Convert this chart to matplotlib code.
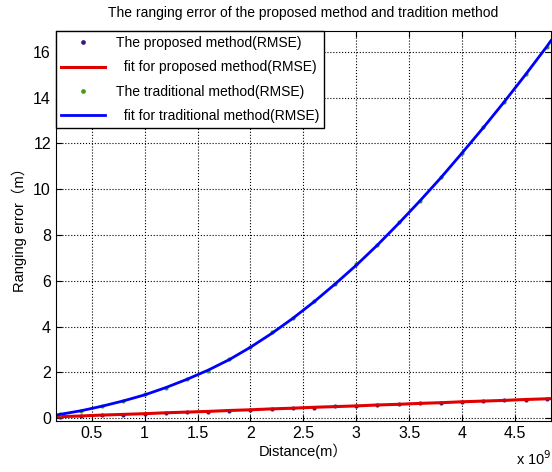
import matplotlib
matplotlib.use('Agg')
import matplotlib.pyplot as plt

plt.rcParams['font.family'] = ['Liberation Sans', 'Noto Sans CJK SC', 'DejaVu Sans']

# distance in units of 1e9 m
dist = [0.2, 0.4, 0.6, 0.8, 1.0, 1.2, 1.4, 1.6, 1.8, 2.0, 2.2, 2.4,
        2.6, 2.8, 3.0, 3.2, 3.4, 3.6, 3.8, 4.0, 4.2, 4.4, 4.6, 4.8]

# measured RMSE points
proposed = [0.07, 0.09, 0.13, 0.15, 0.19, 0.22, 0.27, 0.29, 0.33, 0.37, 0.40, 0.45,
            0.47, 0.52, 0.54, 0.59, 0.61, 0.66, 0.68, 0.72, 0.75, 0.79, 0.81, 0.85]
traditional = [0.18, 0.32, 0.55, 0.75, 1.04, 1.32, 1.73, 2.08, 2.59, 3.10, 3.75, 4.36,
               5.13, 5.86, 6.73, 7.56, 8.55, 9.48, 10.55, 11.58, 12.73, 13.82, 15.05, 16.22]

# fitted curves
fit_dist = [0.16, 0.2, 0.4, 0.6, 0.8, 1.0, 1.2, 1.4, 1.6, 1.8, 2.0, 2.2, 2.4,
            2.6, 2.8, 3.0, 3.2, 3.4, 3.6, 3.8, 4.0, 4.2, 4.4, 4.6, 4.8, 4.84]
fit_proposed = [0.06, 0.07, 0.10, 0.14, 0.17, 0.20, 0.24, 0.27, 0.30, 0.34, 0.37, 0.41, 0.44,
                0.48, 0.51, 0.54, 0.58, 0.61, 0.65, 0.68, 0.72, 0.75, 0.78, 0.82, 0.85, 0.86]
fit_traditional = [0.14, 0.17, 0.33, 0.53, 0.76, 1.02, 1.34, 1.70, 2.10, 2.56, 3.10, 3.70, 4.36,
                   5.08, 5.86, 6.68, 7.56, 8.50, 9.48, 10.50, 11.58, 12.68, 13.82, 15.00, 16.22, 16.48]

fig = plt.figure(figsize=(5.52, 4.72), dpi=100)
ax = fig.add_axes([0.101, 0.108, 0.897, 0.826])

ax.plot(dist, proposed, '.', color='#3a1a80', markersize=4, label='The proposed method(RMSE)')
ax.plot(fit_dist, fit_proposed, '-', color='#e00000', linewidth=2.2, label='  fit for proposed method(RMSE)')
ax.plot(dist, traditional, '.', color='#4a9a20', markersize=4, label='The traditional method(RMSE)')
ax.plot(fit_dist, fit_traditional, '-', color='#0000ff', linewidth=2.0, label='  fit for traditional method(RMSE)')

ax.set_xlim(0.16, 4.84)
ax.set_ylim(-0.12, 16.9)
ax.set_xticks([0.5, 1, 1.5, 2, 2.5, 3, 3.5, 4, 4.5])
ax.set_xticklabels(['0.5', '1', '1.5', '2', '2.5', '3', '3.5', '4', '4.5'])
ax.set_yticks(range(0, 17, 2))
ax.tick_params(direction='in', top=True, right=True, length=4, labelsize=11.5)
ax.grid(True, linestyle=':', color='black', linewidth=0.8)
for s in ax.spines.values():
    s.set_linewidth(0.8)

ax.set_title('The ranging error of the proposed method and tradition method', fontsize=10, pad=10)
ax.set_xlabel('Distance(m\uff09', fontsize=10.5, labelpad=2)
ax.set_ylabel('Ranging error\uff08m\uff09', fontsize=10.5)
fig.text(0.935, 0.015, r'x 10$^9$', fontsize=10.5)

leg = ax.legend(loc='upper left', fontsize=10, frameon=True, fancybox=False,
                framealpha=1, edgecolor='black', borderaxespad=0, handlelength=3.2,
                labelspacing=0.75, markerscale=1.2, borderpad=0.35)
leg.get_frame().set_linewidth(1.0)

fig.savefig('out.png', dpi=100)
